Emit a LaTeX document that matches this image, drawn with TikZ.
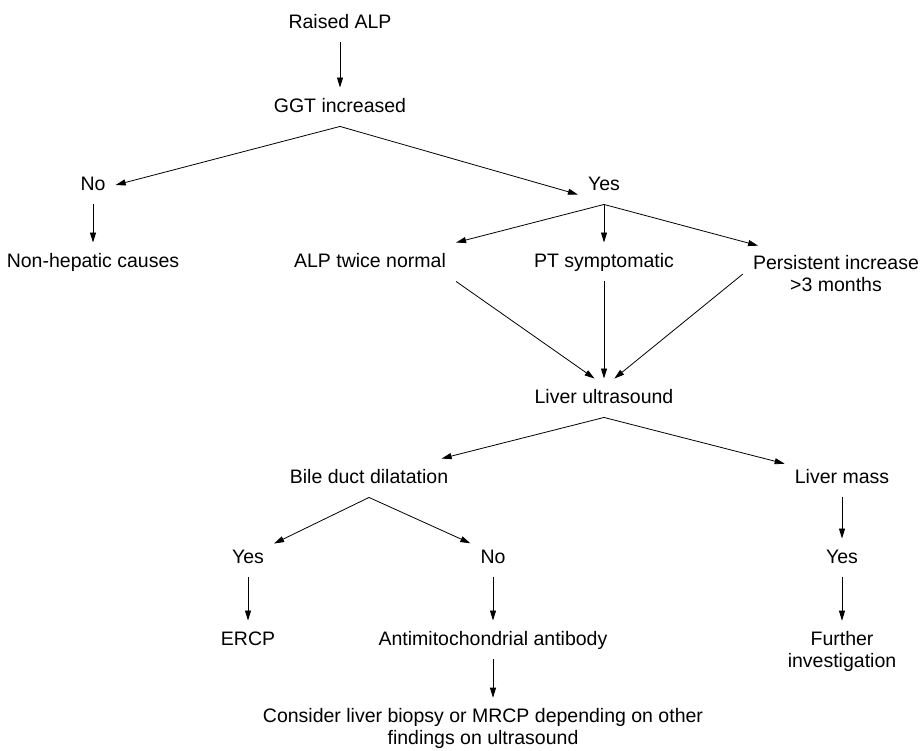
\documentclass[tikz,border=0pt]{standalone}
\usepackage{fontspec}
\setmainfont{Liberation Sans}
\usepackage{tikz}
\usetikzlibrary{arrows.meta, positioning}

\begin{document}
\begin{tikzpicture}[x=1pt, y=-1pt,
    font=\fontsize{19.5}{22}\selectfont,
    lbl/.style={inner sep=10pt, text height=14.5pt, text depth=4pt},
    lbltwo/.style={inner sep=10pt, align=center},
    arr/.style={-{Triangle[length=10pt, width=6pt]}, line width=0.8pt}]
        \useasboundingbox (0,0) rectangle (920,751);
        % Top of the tree
        \node[lbl] (alp) at (340,23) {Raised ALP};
        \node[lbl] (ggt) at (340,107) {GGT increased};
        \node[lbl] (no1) at (93,185) {No};
        \node[lbl] (yes1) at (604,185) {Yes};
        \node[lbl] (nonhep) at (93,262) {Non-hepatic causes};
        % Indications for ultrasound
        \node[lbl] (twice) at (370,262) {ALP twice normal};
        \node[lbl] (pt) at (604,262) {PT symptomatic};
        \node[lbltwo] (persist) at (836,274) {Persistent increase\\>3 months};
        \node[lbl] (us) at (604,398) {Liver ultrasound};
        % Ultrasound findings
        \node[lbl] (bile) at (369,478) {Bile duct dilatation};
        \node[lbl] (mass) at (842,478) {Liver mass};
        \node[lbl] (yes2) at (248,558) {Yes};
        \node[lbl] (no2) at (493,558) {No};
        \node[lbl] (yes3) at (842,558) {Yes};
        \node[lbl] (ercp) at (248,640) {ERCP};
        \node[lbl] (ama) at (493,640) {Antimitochondrial antibody};
        \node[lbltwo] (further) at (842,651) {Further\\investigation};
        \node[lbltwo] (consider) at (483,728) {Consider liver biopsy or MRCP depending on other\\findings on ultrasound};
        % Connectors
        \draw[arr] (alp) -- (ggt);
        \draw[arr] (ggt.south) -- (no1.east);
        \draw[arr] (ggt.south) -- (yes1.200);
        \draw[arr] (no1) -- (nonhep);
        \draw[arr] (yes1.south) -- (twice.north east);
        \draw[arr] (yes1) -- (pt);
        \draw[arr] (yes1.south) -- (persist.160);
        \draw[arr] (twice.south east) -- (us.116);
        \draw[arr] (pt) -- (us);
        \draw[arr] (persist.west) -- (us.62);
        \draw[arr] (us.south) -- (bile.15);
        \draw[arr] (us.south) -- (mass.166);
        \draw[arr] (bile.south) -- (yes2.29);
        \draw[arr] (bile.south) -- (no2.147);
        \draw[arr] (mass) -- (yes3);
        \draw[arr] (yes2) -- (ercp);
        \draw[arr] (no2) -- (ama);
        \draw[arr] (yes3) -- (further);
        \draw[arr] (ama.south) -- (ama.south |- consider.north);
\end{tikzpicture}
\end{document}
